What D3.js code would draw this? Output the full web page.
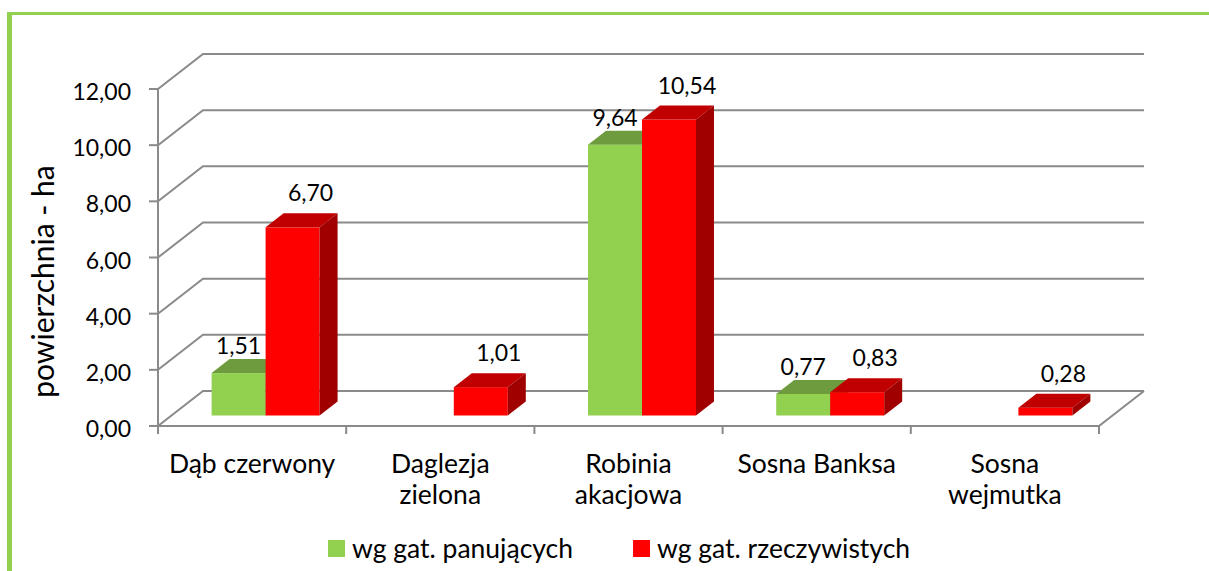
<!DOCTYPE html>
<html>
<head>
<meta charset="utf-8">
<script src="https://cdn.jsdelivr.net/npm/d3@7"></script>
<style>
  body { margin: 0; background: #fff; }
  svg { display: block; }
  text { font-family: Lato, "Open Sans", sans-serif; fill: #000; }
</style>
</head>
<body>
<script>
// Powierzchnia drzewostanów obcych gatunków (ha)
const categories = ["Dąb czerwony", "Daglezja\nzielona", "Robinia\nakacjowa", "Sosna Banksa", "Sosna\nwejmutka"];
const seriesNames = ["wg gat. panujących", "wg gat. rzeczywistych"];
const panujacych = [1.51, null, 9.64, 0.77, null];
const rzeczywistych = [6.70, 1.01, 10.54, 0.83, 0.28];
const yTicks = [0, 2, 4, 6, 8, 10, 12];
const yTitle = "powierzchnia - ha";

const W = 1209, H = 571;
const colors = [
  { front: "#92D050", top: "#6E9B3D", side: "#5B8530" },
  { front: "#FF0000", top: "#C00000", side: "#A00000" }
];
const seriesValues = [panujacych, rzeczywistych];

const plot = { left: 158, right: 1099, bottom: 426, top: 89 };
const depth = { x: 45, y: -35 };     // floor depth projected to screen
const barFront = 0.3, barBack = 0.7;  // bar position inside the depth

const numSize = 23, wordSize = 26.5, titleSize = 30;

const pl = d3.formatLocale({ decimal: ",", thousands: " ", grouping: [3], currency: ["", " zł"] });
const fmt = pl.format(".2f");

const svg = d3.select("body").append("svg").attr("width", W).attr("height", H);

// frame
svg.append("rect").attr("x", 7).attr("y", 12).attr("width", W - 7).attr("height", 3).attr("fill", "#92D050");
svg.append("rect").attr("x", 7).attr("y", 12).attr("width", 5).attr("height", H - 12).attr("fill", "#92D050");

const x = d3.scaleBand().domain(categories).range([plot.left, plot.right]).padding(0);
const xs = d3.scaleBand().domain(seriesNames).range([0, x.bandwidth()]).paddingInner(0).paddingOuter(0.743);
const y = d3.scaleLinear().domain([0, 12]).range([plot.bottom, plot.top]);

const gridColor = "#8a8a8a";
const g = svg.append("g");

// back wall + floor gridlines
g.selectAll("path.grid").data(yTicks).join("path")
  .attr("class", "grid")
  .attr("fill", "none").attr("stroke", gridColor).attr("stroke-width", 2)
  .attr("d", v => `M${plot.left},${y(v)} L${plot.left + depth.x},${y(v) + depth.y} L${plot.right + depth.x},${y(v) + depth.y}`);

// floor front edge and right side
g.append("path").attr("fill", "none").attr("stroke", gridColor).attr("stroke-width", 2)
  .attr("d", `M${plot.left},${plot.bottom} L${plot.right},${plot.bottom} L${plot.right + depth.x},${plot.bottom + depth.y}`);

// value axis
g.append("line").attr("x1", plot.left).attr("x2", plot.left).attr("y1", y(12)).attr("y2", y(0))
  .attr("stroke", gridColor).attr("stroke-width", 2);
g.selectAll("line.ytick").data(yTicks).join("line").attr("class", "ytick")
  .attr("x1", plot.left - 9).attr("x2", plot.left).attr("y1", d => y(d)).attr("y2", d => y(d))
  .attr("stroke", gridColor).attr("stroke-width", 2);
g.selectAll("text.ylab").data(yTicks).join("text").attr("class", "ylab")
  .attr("x", 131).attr("y", d => y(d) + 2).attr("text-anchor", "end").attr("dominant-baseline", "central")
  .attr("font-size", numSize).text(d => fmt(d));

// category ticks
const catEdges = categories.map(c => x(c)).concat([plot.right]);
g.selectAll("line.xtick").data(catEdges).join("line").attr("class", "xtick")
  .attr("x1", d => d).attr("x2", d => d).attr("y1", plot.bottom).attr("y2", plot.bottom + 8)
  .attr("stroke", gridColor).attr("stroke-width", 2);

// category labels
categories.forEach(c => {
  const lines = c.split("\n");
  const t = g.append("text").attr("text-anchor", "middle").attr("font-size", wordSize);
  lines.forEach((ln, i) => {
    t.append("tspan").attr("x", x(c) + x.bandwidth() / 2).attr("y", 473 + i * 31).text(ln);
  });
});

// axis title
g.append("text").attr("transform", `translate(54,${(y(0) + y(12)) / 2 + 24}) rotate(-90)`)
  .attr("text-anchor", "middle").attr("font-size", titleSize).text(yTitle);

// 3D bars
const fdx = depth.x * barFront, fdy = depth.y * barFront;
const bdx = depth.x * (barBack - barFront), bdy = depth.y * (barBack - barFront);
const bars = g.append("g");
const labels = [];
categories.forEach((c, i) => {
  seriesNames.forEach((s, si) => {
    const v = seriesValues[si][i];
    if (v == null) return;
    const x0 = x(c) + xs(s) + fdx, x1 = x0 + xs.bandwidth();
    const yb = y(0) + fdy, yt = y(v) + fdy;
    const col = colors[si];
    bars.append("rect").attr("x", x0).attr("y", yt).attr("width", x1 - x0).attr("height", yb - yt).attr("fill", col.front);
    bars.append("path").attr("fill", col.top)
      .attr("d", `M${x0},${yt} L${x0 + bdx},${yt + bdy} L${x1 + bdx},${yt + bdy} L${x1},${yt} Z`);
    bars.append("path").attr("fill", col.side)
      .attr("d", `M${x1},${yt} L${x1 + bdx},${yt + bdy} L${x1 + bdx},${yb + bdy} L${x1},${yb} Z`);
    labels.push(si === 0
      ? { v, x: (x0 + x1) / 2, y: yt - 19 }
      : { v, x: (x0 + x1) / 2 + bdx, y: yt - 26 });
  });
});
g.selectAll("text.dlab").data(labels).join("text").attr("class", "dlab")
  .attr("x", d => d.x).attr("y", d => d.y).attr("text-anchor", "middle").attr("font-size", numSize)
  .text(d => fmt(d.v));

// legend
const legend = svg.append("g");
let lx = 328;
seriesNames.forEach((s, si) => {
  legend.append("rect").attr("x", lx).attr("y", 540).attr("width", 17).attr("height", 17).attr("fill", colors[si].front);
  const t = legend.append("text").attr("x", lx + 24).attr("y", 558).attr("font-size", wordSize).text(s);
  lx += 24 + t.node().getComputedTextLength() + 60;
});
</script>
</body>
</html>
